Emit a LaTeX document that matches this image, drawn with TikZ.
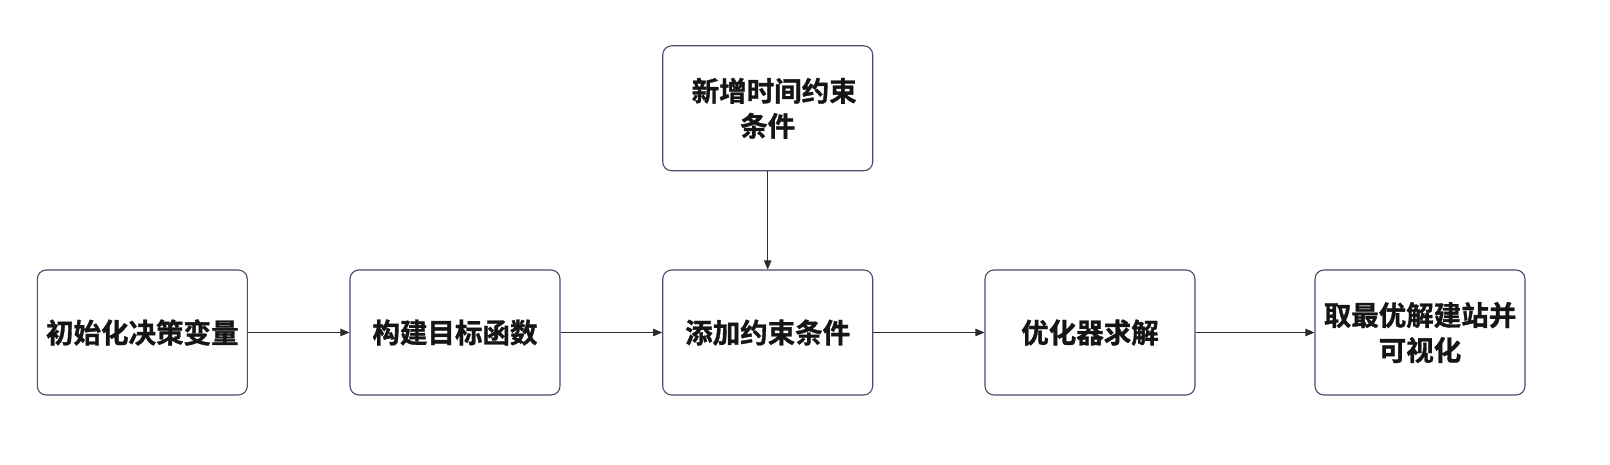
\documentclass[tikz,border=0pt]{standalone}
\usepackage{fontspec}
\setmainfont{Noto Sans CJK SC}[BoldFont={Noto Sans CJK SC Bold},BoldFeatures={FakeBold=1.2}]
\usetikzlibrary{arrows.meta}
\definecolor{boxline}{HTML}{4A4A6E}
\definecolor{arrowline}{HTML}{2B2B2B}
\definecolor{txt}{HTML}{151515}
\begin{document}
\begin{tikzpicture}[x=1pt,y=1pt,
  box/.style={draw=boxline, line width=1.1pt, rounded corners=9pt, minimum width=210pt, minimum height=125pt, inner sep=0pt, align=center, font=\fontsize{27.5}{35}\selectfont\bfseries, text=txt},
  conn/.style={draw=arrowline, line width=0.9pt, -{Triangle[length=9pt,width=7.5pt]}}]
\useasboundingbox (0,0) rectangle (1610,464);
\node[box] (a) at (142.3,131.5) {初始化决策变量};
\node[box] (b) at (455,131.5) {构建目标函数};
\node[box] (c) at (767.7,131.5) {添加约束条件};
\node[box] (d) at (1090,131.5) {优化器求解};
\node[box] (e) at (1420,131.5) {取最优解建站并\\可视化};
\node[box] (t) at (767.7,355.7) {\hspace*{13pt}新增时间约束\\条件};
\draw[conn] (a) -- (b);
\draw[conn] (b) -- (c);
\draw[conn] (c) -- (d);
\draw[conn] (d) -- (e);
\draw[conn] (t) -- (c);
\end{tikzpicture}
\end{document}
